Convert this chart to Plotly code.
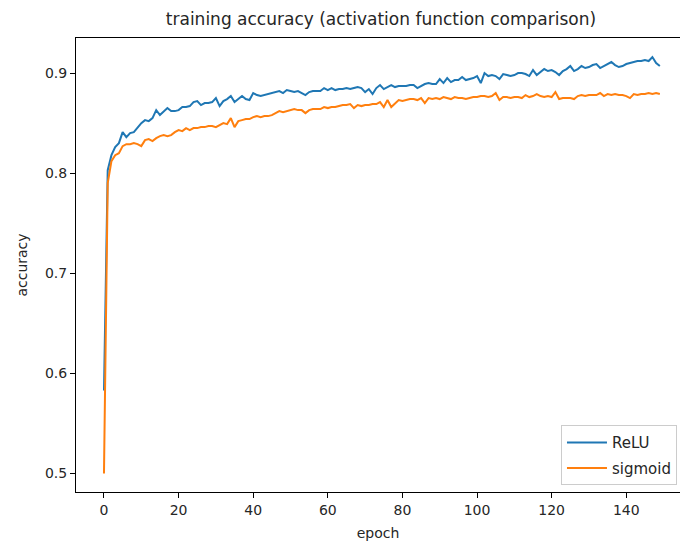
import plotly.graph_objects as go

epochs = list(range(150))

relu_acc = [
    0.583, 0.803, 0.818, 0.826, 0.830, 0.841, 0.836, 0.840, 0.841, 0.846,
    0.850, 0.853, 0.852, 0.855, 0.863, 0.858, 0.862, 0.865, 0.862, 0.862,
    0.863, 0.866, 0.866, 0.867, 0.871, 0.872, 0.868, 0.870, 0.870, 0.871,
    0.875, 0.867, 0.872, 0.874, 0.877, 0.871, 0.874, 0.877, 0.874, 0.873,
    0.880, 0.878, 0.877, 0.878, 0.879, 0.880, 0.881, 0.882, 0.880, 0.883,
    0.882, 0.881, 0.882, 0.880, 0.878, 0.881, 0.882, 0.882, 0.882, 0.885,
    0.883, 0.885, 0.883, 0.884, 0.884, 0.885, 0.884, 0.885, 0.886, 0.885,
    0.881, 0.884, 0.879, 0.885, 0.888, 0.884, 0.886, 0.888, 0.886, 0.887,
    0.887, 0.887, 0.888, 0.888, 0.885, 0.887, 0.889, 0.890, 0.889, 0.889,
    0.894, 0.890, 0.895, 0.891, 0.893, 0.893, 0.896, 0.893, 0.894, 0.895,
    0.897, 0.890, 0.900, 0.897, 0.898, 0.897, 0.894, 0.899, 0.898, 0.897,
    0.898, 0.900, 0.900, 0.899, 0.897, 0.903, 0.898, 0.901, 0.904, 0.902,
    0.903, 0.901, 0.898, 0.902, 0.904, 0.907, 0.902, 0.904, 0.907, 0.905,
    0.906, 0.908, 0.909, 0.905, 0.907, 0.909, 0.911, 0.908, 0.906, 0.907,
    0.909, 0.910, 0.911, 0.912, 0.912, 0.913, 0.912, 0.916, 0.910, 0.907,
]

sigmoid_acc = [
    0.500, 0.790, 0.812, 0.818, 0.820, 0.827, 0.829, 0.829, 0.830, 0.829,
    0.827, 0.833, 0.834, 0.832, 0.835, 0.837, 0.838, 0.837, 0.838, 0.841,
    0.843, 0.842, 0.845, 0.843, 0.845, 0.845, 0.846, 0.846, 0.847, 0.847,
    0.846, 0.848, 0.850, 0.849, 0.855, 0.846, 0.852, 0.853, 0.854, 0.854,
    0.856, 0.857, 0.856, 0.857, 0.857, 0.858, 0.860, 0.862, 0.861, 0.862,
    0.863, 0.864, 0.863, 0.863, 0.860, 0.863, 0.864, 0.864, 0.864, 0.866,
    0.865, 0.866, 0.866, 0.867, 0.868, 0.868, 0.869, 0.865, 0.868, 0.867,
    0.868, 0.868, 0.869, 0.869, 0.871, 0.866, 0.873, 0.866, 0.870, 0.873,
    0.872, 0.873, 0.874, 0.874, 0.873, 0.875, 0.870, 0.875, 0.874, 0.875,
    0.874, 0.876, 0.875, 0.874, 0.876, 0.875, 0.875, 0.874, 0.875, 0.876,
    0.876, 0.877, 0.877, 0.876, 0.877, 0.880, 0.873, 0.876, 0.876, 0.875,
    0.876, 0.876, 0.875, 0.878, 0.876, 0.877, 0.879, 0.877, 0.876, 0.877,
    0.876, 0.881, 0.874, 0.875, 0.875, 0.875, 0.874, 0.877, 0.878, 0.877,
    0.878, 0.878, 0.878, 0.880, 0.877, 0.879, 0.878, 0.879, 0.878, 0.878,
    0.877, 0.875, 0.879, 0.878, 0.879, 0.879, 0.880, 0.879, 0.880, 0.879,
]

x_ticks = [0, 20, 40, 60, 80, 100, 120, 140]
y_ticks = [0.5, 0.6, 0.7, 0.8, 0.9]
y_tick_labels = ["0.5", "0.6", "0.7", "0.8", "0.9"]

FONT = "DejaVu Sans, Liberation Sans, sans-serif"
TXT = "#262626"

fig = go.Figure()
fig.add_trace(go.Scatter(x=epochs, y=relu_acc, mode="lines", name="ReLU",
                         legendgroup="relu",
                         line=dict(color="#1f77b4", width=2)))
fig.add_trace(go.Scatter(x=epochs, y=sigmoid_acc, mode="lines", name="sigmoid",
                         legendgroup="sigmoid",
                         line=dict(color="#ff7f0e", width=2)))

fig.update_layout(
    width=680, height=546,
    margin=dict(l=76, r=0, t=38, b=54),
    paper_bgcolor="white", plot_bgcolor="white",
    font=dict(family=FONT, size=14, color=TXT),
    title=dict(text="training accuracy (activation function comparison)",
               x=381 / 680, xanchor="center", xref="container",
               y=1 - 19 / 546, yanchor="middle", yref="container",
               font=dict(size=17, color=TXT)),
    showlegend=True,
    legend=dict(x=0.995, y=0.015, xanchor="right", yanchor="bottom",
                bgcolor="rgba(255,255,255,0.8)", bordercolor="#cccccc",
                borderwidth=1, font=dict(size=15, color=TXT),
                itemwidth=40, tracegroupgap=3),
)

fig.update_xaxes(
    range=[-7.5, 154.4], tickmode="array", tickvals=x_ticks,
    showgrid=False, zeroline=False,
    showline=True, linecolor="black", linewidth=1, mirror=True,
    ticks="outside", ticklen=5, tickwidth=1, tickcolor="black",
    tickfont=dict(size=14, color=TXT),
    title=dict(text="epoch", font=dict(size=14, color=TXT), standoff=11),
)
fig.update_yaxes(
    range=[0.4816, 0.935], tickmode="array", tickvals=y_ticks, ticktext=y_tick_labels,
    showgrid=False, zeroline=False,
    showline=True, linecolor="black", linewidth=1, mirror=True,
    ticks="outside", ticklen=5, tickwidth=1, tickcolor="black",
    tickfont=dict(size=14, color=TXT),
    title=dict(text="accuracy", font=dict(size=14, color=TXT), standoff=14),
)

fig.write_html("out.html", config={"displayModeBar": False},
               post_script="document.body.style.margin='0';")
